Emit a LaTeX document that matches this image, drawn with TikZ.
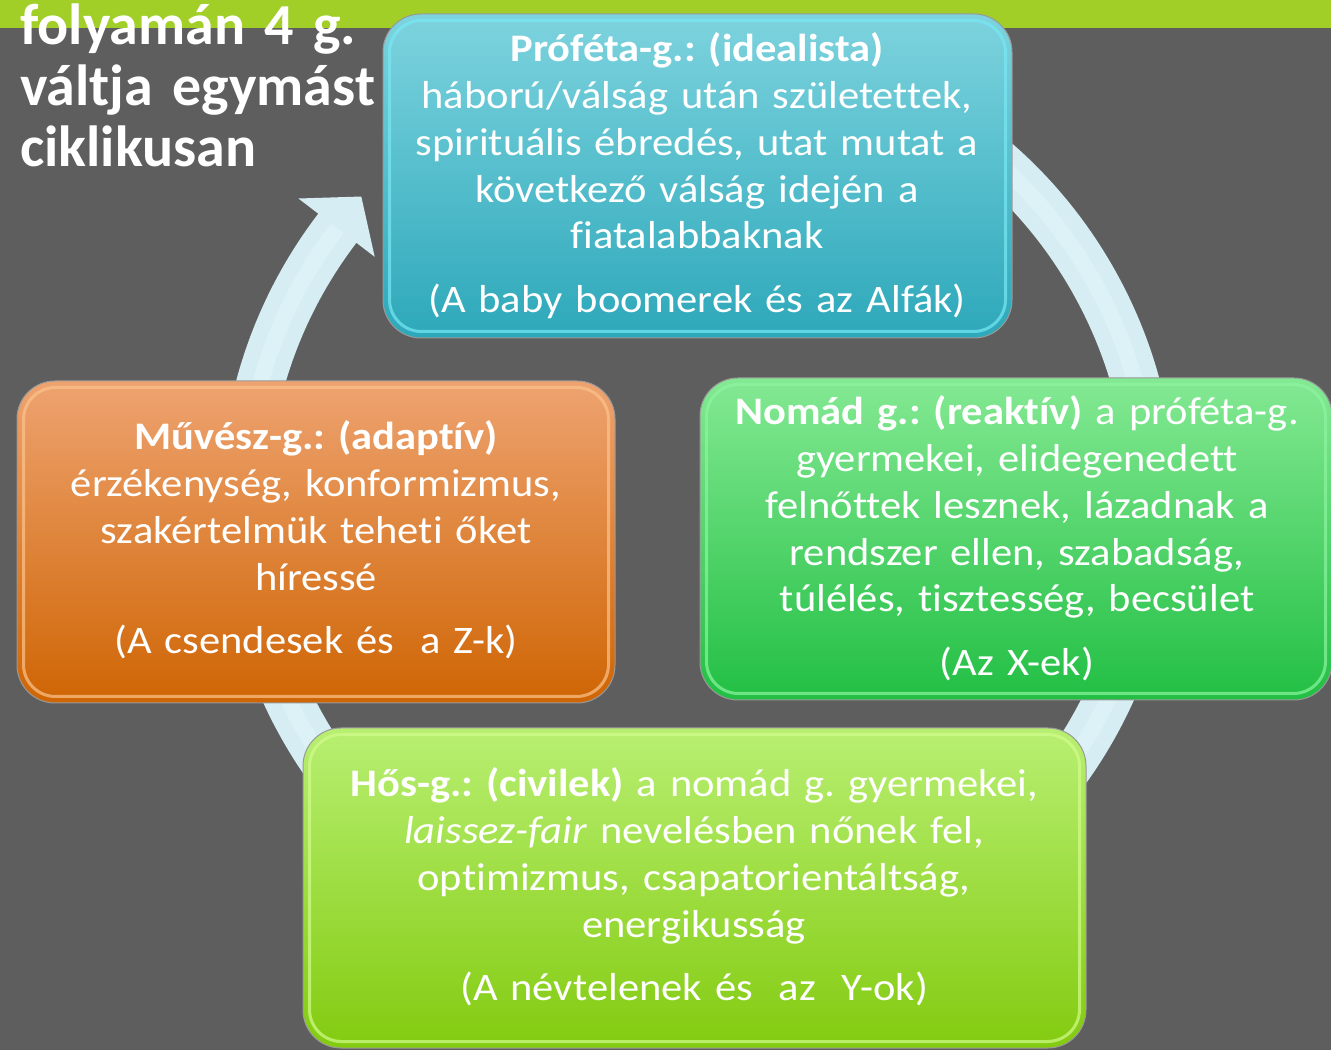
\documentclass[tikz,border=0pt]{standalone}
\usepackage{fontspec}
\setmainfont[Ligatures=NoCommon]{Carlito}
\newfontfamily\bodyfont[FakeStretch=1.09,Ligatures=NoCommon]{Carlito}
\usetikzlibrary{calc}
\definecolor{bgcol}{RGB}{94,94,94}
\definecolor{barcol}{RGB}{162,206,40}
\definecolor{ringcol}{RGB}{214,238,243}
\definecolor{ringhi}{RGB}{221,242,246}
\definecolor{profA}{RGB}{125,211,222}
\definecolor{profB}{RGB}{45,168,186}
\definecolor{profE}{RGB}{120,232,244}
\definecolor{muvA}{RGB}{238,163,112}
\definecolor{muvB}{RGB}{207,101,4}
\definecolor{muvE}{RGB}{252,196,140}
\definecolor{nomA}{RGB}{132,233,147}
\definecolor{nomB}{RGB}{34,191,68}
\definecolor{nomE}{RGB}{140,245,160}
\definecolor{hosA}{RGB}{184,239,114}
\definecolor{hosB}{RGB}{131,203,16}
\definecolor{hosE}{RGB}{210,252,140}
\tikzset{
  genbox/.style={rounded corners=38pt, inner sep=0pt, draw=black!40, line width=1pt},
  boxtext/.style={text=white, align=center, text width=800pt, inner sep=0pt,
    font=\bodyfont\frenchspacing\fontsize{39}{46.7}\selectfont},
  titletext/.style={text=white, align=left, text width=420pt, inner sep=0pt, anchor=base west,
    font=\frenchspacing\fontsize{58}{61}\selectfont\bfseries},
  ringline/.style={ringcol, line width=48pt},
  ringstripe/.style={ringhi, line width=16pt}
}
\begin{document}
\begin{tikzpicture}[x=1pt,y=1pt]
\useasboundingbox (0,0) rectangle (1331,1050);
\fill[bgcol] (0,0) rectangle (1331,1050);
\fill[barcol] (0,1022) rectangle (1331,1050);
% ring
\coordinate (ringc) at (698,546);
\draw[ringline] (ringc) ++(120:454) arc[start angle=120, end angle=-217.6, radius=454pt];
\draw[ringstripe] (ringc) ++(120:454) arc[start angle=120, end angle=-217.8, radius=454pt];
\coordinate (hout) at ($(ringc)+(142.6:503)$);
\coordinate (hin) at ($(ringc)+(142.6:407)$);
\coordinate (htip) at ($(ringc)+(137.6:456)$);
\fill[ringcol] (hout) -- (htip) -- (hin) -- cycle;
% boxes
\node[genbox, top color=profA, bottom color=profB, minimum width=629pt, minimum height=324pt] (prof) at (697.5,874) {};
\node[genbox, top color=muvA, bottom color=muvB, minimum width=598pt, minimum height=322pt] (muv) at (316,508) {};
\node[genbox, top color=nomA, bottom color=nomB, minimum width=632pt, minimum height=322pt] (nom) at (1016,511) {};
\node[genbox, top color=hosA, bottom color=hosB, minimum width=783pt, minimum height=320pt] (hos) at (694.5,162) {};
\foreach \b/\e in {prof/profE, muv/muvE, nom/nomE, hos/hosE}{
  \draw[\e, line width=3pt, opacity=0.7, rounded corners=32pt]
    ($(\b.north west)+(7,-7)$) rectangle ($(\b.south east)+(-7,7)$);
}
% texts
\node[boxtext, anchor=base] (proft) at (697,988) {\textbf{Próféta-g.: (idealista)}\\
háború/válság után születettek,\\
spirituális ébredés, utat mutat a\\
következő válság idején a\\
fiatalabbaknak\\[17pt]
(A baby boomerek és az Alfák)};
\node[boxtext, anchor=base] (muvt) at (316,600) {\textbf{Művész-g.: (adaptív)}\\
érzékenység, konformizmus,\\
szakértelmük teheti őket\\
híressé\\[17pt]
(A csendesek és\ \ a Z-k)};
\node[boxtext, anchor=base] (nomt) at (1017,625) {\textbf{Nomád g.: (reaktív)} a próféta-g.\\
gyermekei, elidegenedett\\
felnőttek lesznek, lázadnak a\\
rendszer ellen, szabadság,\\
túlélés, tisztesség, becsület\\[17pt]
(Az X-ek)};
\node[boxtext, anchor=base] (host) at (694,253) {\textbf{Hős-g.: (civilek)} a nomád g. gyermekei,\\
\textit{laissez-fair} nevelésben nőnek fel,\\
optimizmus, csapatorientáltság,\\
energikusság\\[17pt]
(A névtelenek és\ \ az\ \ Y-ok)};
\node[titletext] (title) at (20,1005) {folyamán 4 g.\\váltja egymást\\ciklikusan};
\end{tikzpicture}
\end{document}
